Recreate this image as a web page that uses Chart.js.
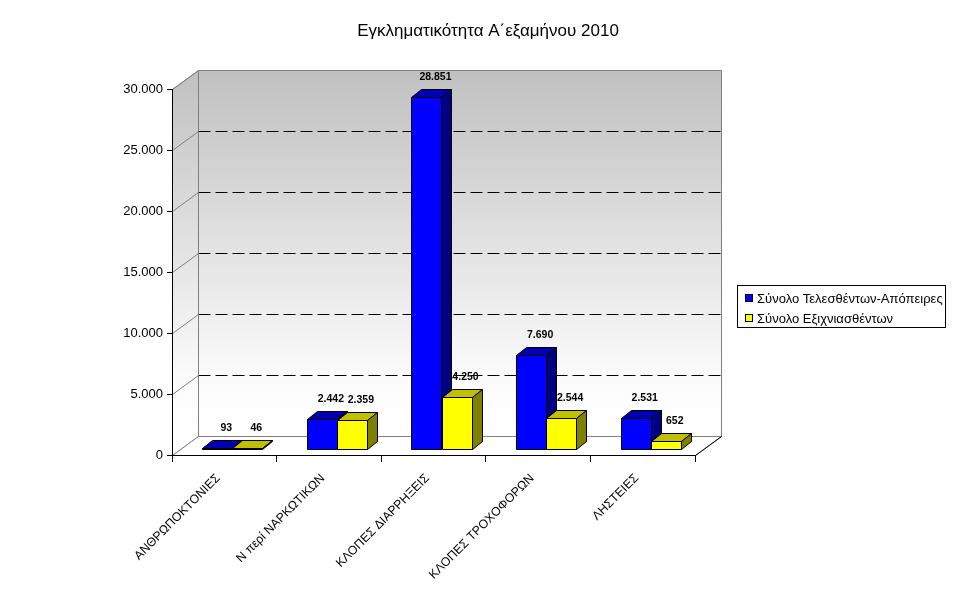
<!DOCTYPE html>
<html>
<head>
<meta charset="utf-8">
<title>Εγκληματικότητα Α΄εξαμήνου 2010</title>
<script src="https://cdn.jsdelivr.net/npm/chart.js@4"></script>
<style>
    body { margin: 0; background: #fff; }
    canvas { display: block; }
</style>
</head>
<body>
<canvas id="grafico" width="977" height="600"></canvas>
<script>
// Dati
const categorie = ['ΑΝΘΡΩΠΟΚΤΟΝΙΕΣ', 'Ν περί ΝΑΡΚΩΤΙΚΩΝ', 'ΚΛΟΠΕΣ ΔΙΑΡΡΗΞΕΙΣ', 'ΚΛΟΠΕΣ ΤΡΟΧΟΦΟΡΩΝ', 'ΛΗΣΤΕΙΕΣ'];
const etichetteSerie = ['Σύνολο Τελεσθέντων-Απόπειρες', 'Σύνολο Εξιχνιασθέντων'];
const totaleTelesthenton = [93, 2442, 28851, 7690, 2531];
const totaleExichniasthenton = [46, 2359, 4250, 2544, 652];
const titolo = 'Εγκληματικότητα Α΄εξαμήνου 2010';
const asseYMax = 30000;
const passoY = 5000;

const FONT = '"Liberation Sans", Arial, sans-serif';

// colori delle facce: fronte, sopra, lato
const coloriSerie = [
    { fronte: '#0000ff', sopra: '#0000b0', lato: '#000080' },
    { fronte: '#ffff00', sopra: '#c0c000', lato: '#808000' }
];

// profondita' del pavimento e delle barre
const profondita = { dx: 26, dy: -19 };
const arretramento = { dx: 8, dy: -6 };
const spessoreBarra = { dx: 10, dy: -8 };

function formattaNumero(v) {
    return String(v).replace(/\B(?=(\d{3})+(?!\d))/g, '.');
}

function poligono(ctx, punti, riempimento, bordo) {
    ctx.beginPath();
    ctx.moveTo(punti[0][0], punti[0][1]);
    for (let i = 1; i < punti.length; i++) ctx.lineTo(punti[i][0], punti[i][1]);
    ctx.closePath();
    if (riempimento) { ctx.fillStyle = riempimento; ctx.fill(); }
    if (bordo) { ctx.strokeStyle = bordo; ctx.lineWidth = 1; ctx.stroke(); }
}

// Pareti, pavimento e griglia tratteggiata
const pareti3D = {
    id: 'pareti3D',
    beforeDraw(chart) {
        const ctx = chart.ctx;
        const a = chart.chartArea;
        const y = chart.scales.y;
        const sx = a.left + 0.5, dx = a.right + 0.5;
        const su = a.top + 0.5, giu = a.bottom + 0.5;
        const px = profondita.dx, py = profondita.dy;

        ctx.save();
        const grad = ctx.createLinearGradient(0, su + py, 0, giu + py);
        grad.addColorStop(0, '#c0c0c0');
        grad.addColorStop(0.85, '#fcfcfc');
        grad.addColorStop(1, '#ffffff');

        // parete di fondo
        poligono(ctx, [[sx + px, su + py], [dx + px, su + py], [dx + px, giu + py], [sx + px, giu + py]], grad, '#808080');
        // parete sinistra
        poligono(ctx, [[sx, su], [sx + px, su + py], [sx + px, giu + py], [sx, giu]], grad, '#808080');
        // pavimento
        poligono(ctx, [[sx, giu], [sx + px, giu + py], [dx + px, giu + py], [dx, giu]], '#ffffff', '#808080');

        // linee di griglia
        for (let v = passoY; v < asseYMax; v += passoY) {
            const yy = Math.round(y.getPixelForValue(v)) + 0.5;
            ctx.strokeStyle = '#000';
            ctx.lineWidth = 1;
            ctx.setLineDash([12, 5]);
            ctx.beginPath();
            ctx.moveTo(sx + px, yy + py);
            ctx.lineTo(dx + px, yy + py);
            ctx.stroke();
        }
        ctx.setLineDash([]);
        for (let v = passoY; v <= asseYMax; v += passoY) {
            const yy = Math.round(y.getPixelForValue(v)) + 0.5;
            ctx.strokeStyle = '#808080';
            ctx.beginPath();
            ctx.moveTo(sx, yy);
            ctx.lineTo(sx + px, yy + py);
            ctx.stroke();
        }
        // spigolo destro del pavimento
        ctx.strokeStyle = '#000';
        ctx.beginPath();
        ctx.moveTo(dx, giu);
        ctx.lineTo(dx + px, giu + py);
        ctx.stroke();
        ctx.restore();
    }
};

// Barre 3D disegnate categoria per categoria
const barre3D = {
    id: 'barre3D',
    beforeDatasetsDraw(chart) {
        const ctx = chart.ctx;
        ctx.save();
        ctx.lineWidth = 1;
        for (let i = 0; i < categorie.length; i++) {
            for (let d = 0; d < chart.data.datasets.length; d++) {
                const el = chart.getDatasetMeta(d).data[i];
                const c = coloriSerie[d];
                const l = Math.round(el.x - el.width / 2 + arretramento.dx) + 0.5;
                const r = Math.round(el.x + el.width / 2 + arretramento.dx) + 0.5;
                const t = Math.round(el.y + arretramento.dy) + 0.5;
                const b = Math.round(el.base + arretramento.dy) + 0.5;
                const bx = spessoreBarra.dx, by = spessoreBarra.dy;
                poligono(ctx, [[l, t], [r, t], [r, b], [l, b]], c.fronte, '#000');
                poligono(ctx, [[l, t], [l + bx, t + by], [r + bx, t + by], [r, t]], c.sopra, '#000');
                poligono(ctx, [[r, t], [r + bx, t + by], [r + bx, b + by], [r, b]], c.lato, '#000');
            }
        }
        ctx.restore();
        return false;
    },
    afterDraw(chart) {
        const ctx = chart.ctx;
        ctx.save();
        // etichette dei valori
        ctx.font = 'bold 10.5px ' + FONT;
        ctx.fillStyle = '#000';
        ctx.textAlign = 'center';
        ctx.textBaseline = 'middle';
        chart.data.datasets.forEach((ds, d) => {
            chart.getDatasetMeta(d).data.forEach((el, i) => {
                const x = el.x + arretramento.dx + 9;
                const y = el.y + arretramento.dy - 20;
                ctx.fillText(formattaNumero(ds.data[i]), x, y);
            });
        });

        // titolo
        ctx.font = '17px ' + FONT;
        ctx.fillText(titolo, 488, 31);

        // legenda
        ctx.strokeStyle = '#000';
        ctx.lineWidth = 1;
        ctx.strokeRect(737.5, 285.5, 208, 42);
        ctx.font = '13px ' + FONT;
        ctx.textAlign = 'left';
        chart.data.datasets.forEach((ds, d) => {
            const yy = 298 + d * 20;
            ctx.fillStyle = coloriSerie[d].fronte;
            ctx.fillRect(745, yy - 4, 8, 8);
            ctx.strokeRect(745.5, yy - 3.5, 7, 7);
            ctx.fillStyle = '#000';
            ctx.fillText(ds.label, 757, yy + 1);
        });
        ctx.restore();
    }
};

const ctx = document.getElementById('grafico').getContext('2d');
const grafico = new Chart(ctx, {
    type: 'bar',
    data: {
        labels: categorie,
        datasets: [{
            label: etichetteSerie[0],
            data: totaleTelesthenton,
            backgroundColor: coloriSerie[0].fronte
        }, {
            label: etichetteSerie[1],
            data: totaleExichniasthenton,
            backgroundColor: coloriSerie[1].fronte
        }]
    },
    options: {
        responsive: false,
        animation: false,
        categoryPercentage: 0.574,
        barPercentage: 1,
        layout: {
            padding: { top: 89, right: 282, bottom: 0, left: 0 }
        },
        plugins: {
            legend: { display: false },
            title: { display: false },
            tooltip: { enabled: false }
        },
        scales: {
            x: {
                offset: true,
                grid: { offset: true, drawOnChartArea: false, drawTicks: true, tickLength: 7, color: '#000' },
                border: { color: '#000' },
                ticks: {
                    autoSkip: false,
                    maxRotation: 45,
                    minRotation: 45,
                    color: '#000',
                    padding: 9,
                    labelOffset: -6,
                    font: { family: FONT, size: 12.3 }
                },
                afterFit(scale) { scale.height = 145; }
            },
            y: {
                min: 0,
                max: asseYMax,
                grid: { drawOnChartArea: false, drawTicks: true, tickLength: 5, color: '#000' },
                border: { color: '#000' },
                ticks: {
                    stepSize: passoY,
                    color: '#000',
                    padding: 4,
                    font: { family: FONT, size: 13 },
                    callback: v => formattaNumero(v)
                },
                afterFit(scale) { scale.width = 172; }
            }
        }
    },
    plugins: [pareti3D, barre3D]
});
</script>
</body>
</html>
